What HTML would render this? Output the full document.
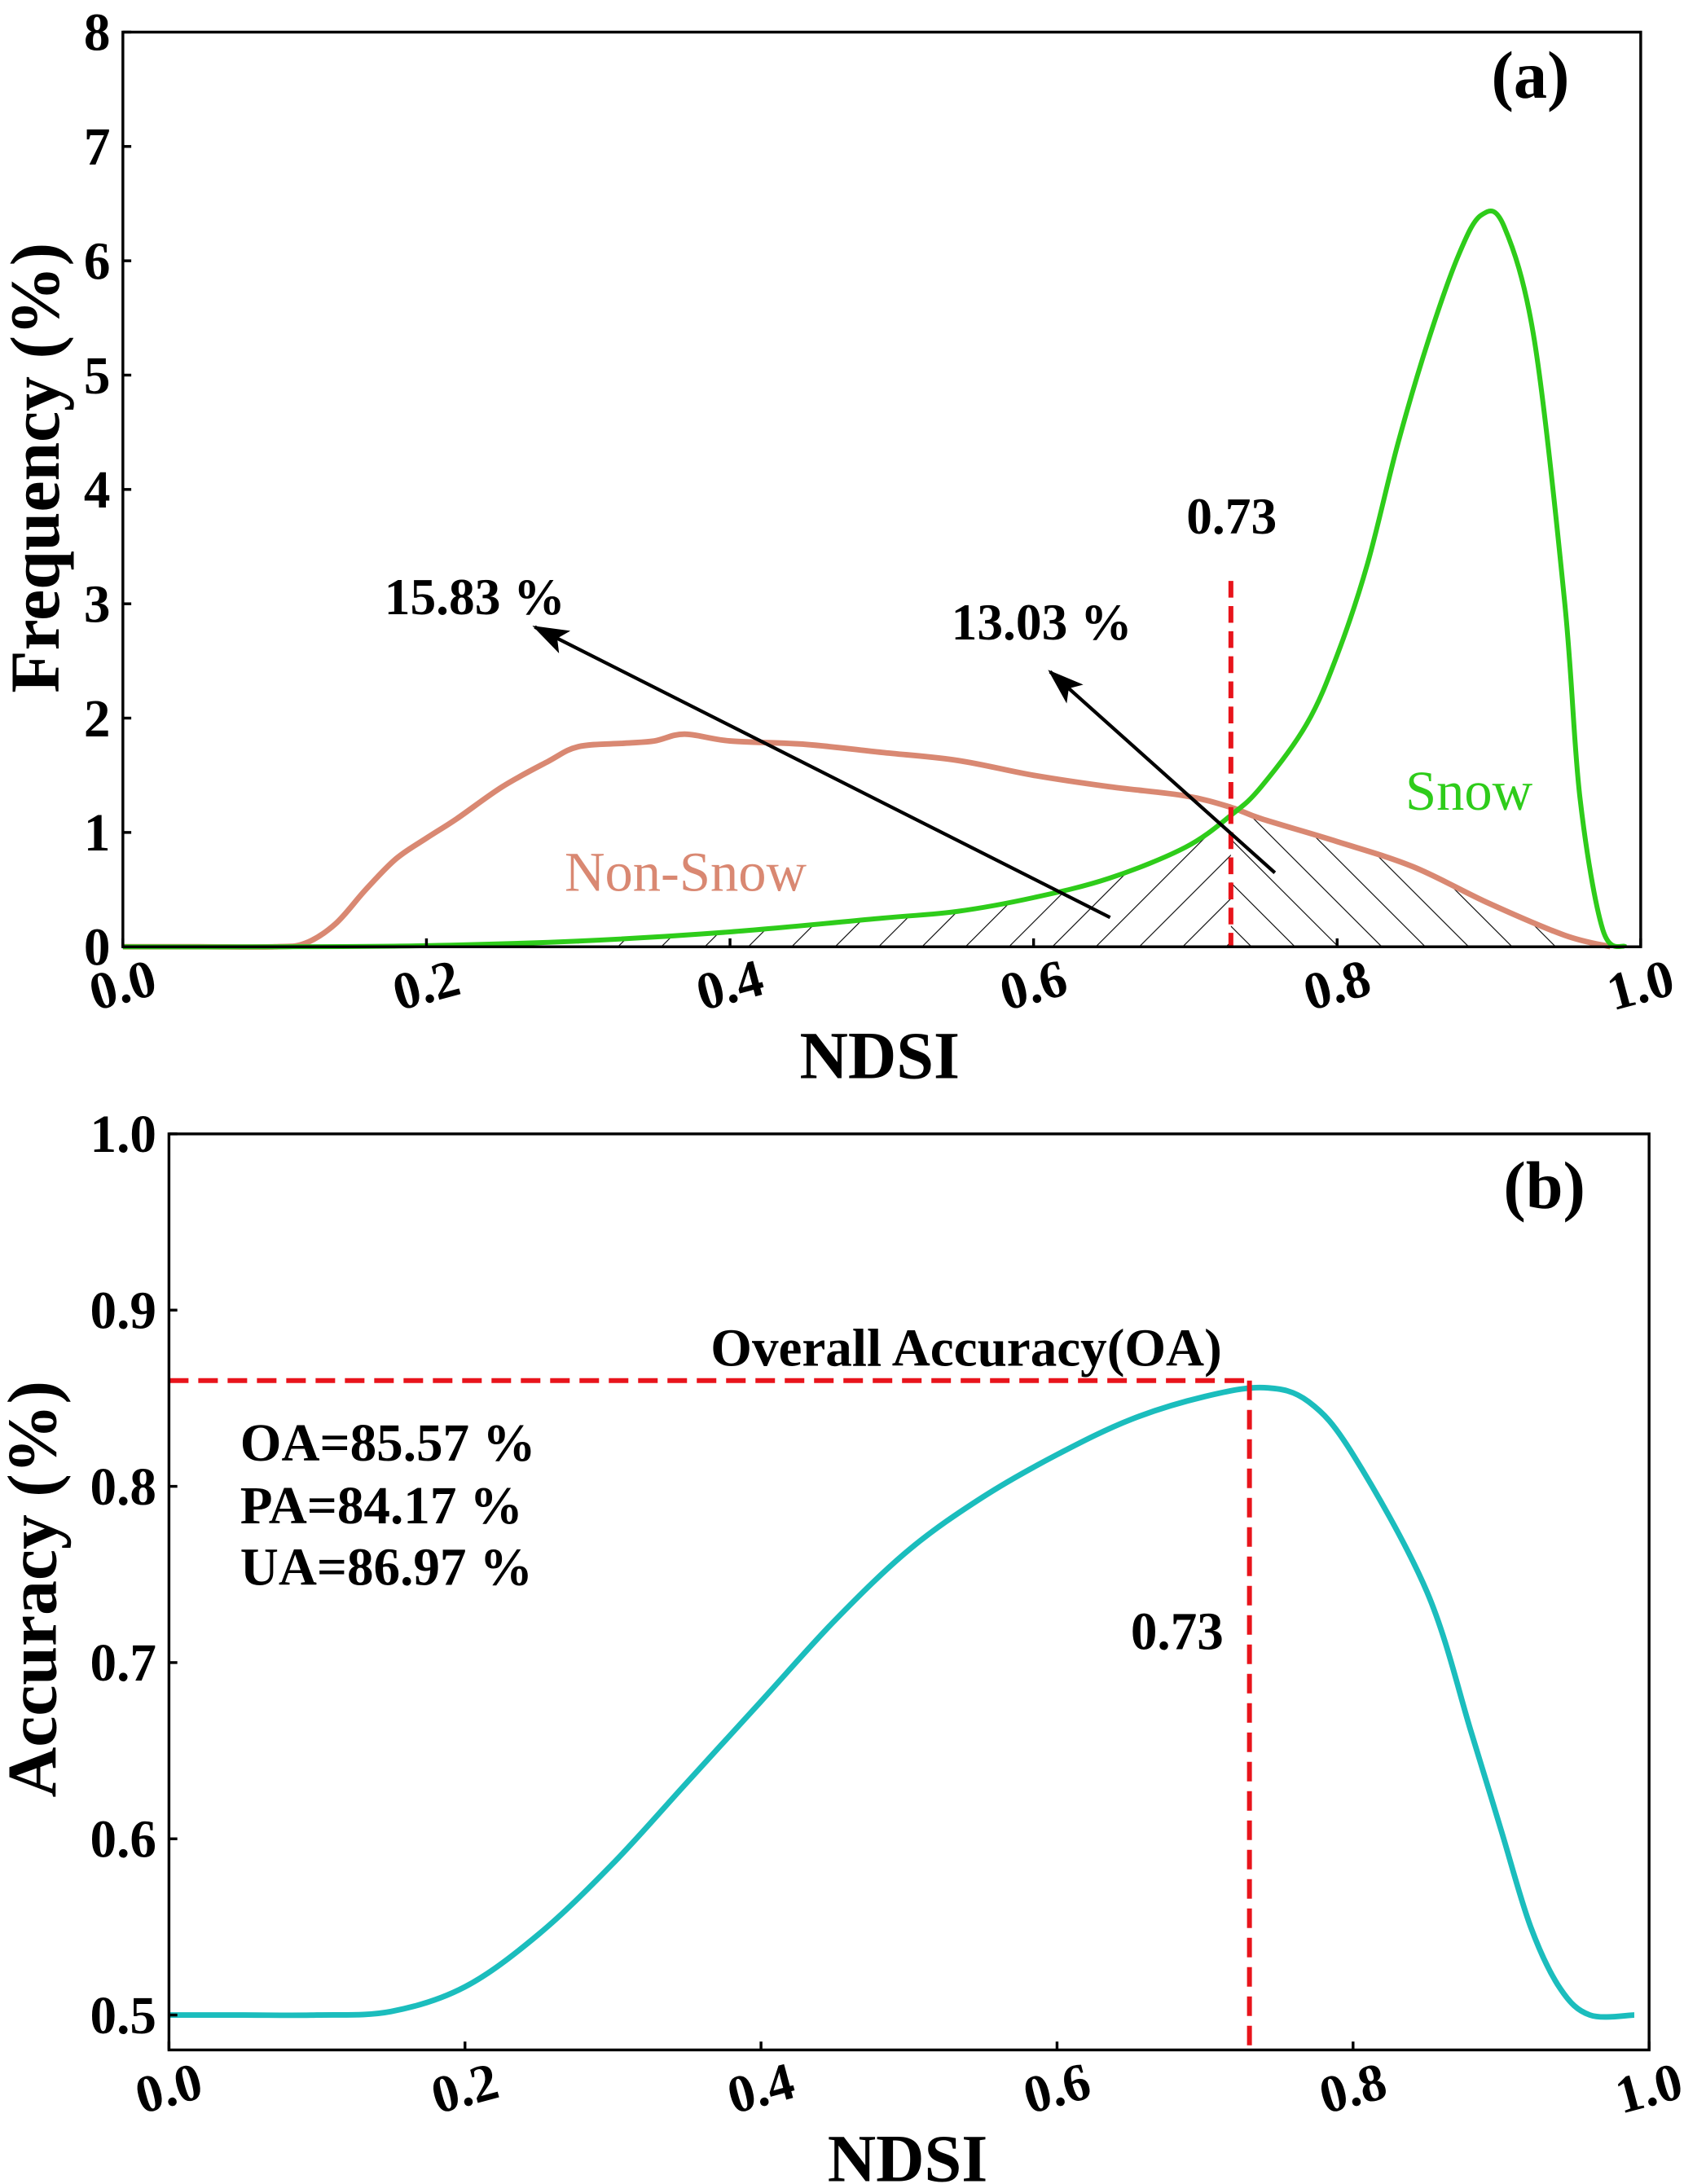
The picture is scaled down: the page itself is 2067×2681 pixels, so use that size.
<!DOCTYPE html>
<html><head><meta charset="utf-8"><style>html,body{margin:0;padding:0;background:#fff}svg{display:block}text{font-family:"Liberation Serif",serif}</style></head>
<body>
<svg id="c" width="2067" height="2681" viewBox="0 0 1206 1564" preserveAspectRatio="none" xmlns="http://www.w3.org/2000/svg">
<defs>
<pattern id="hf" patternUnits="userSpaceOnUse" width="22" height="22" patternTransform="rotate(45)"><line x1="0" y1="0" x2="0" y2="22" stroke="#000" stroke-width="1.3"/></pattern>
<pattern id="hb" patternUnits="userSpaceOnUse" width="22" height="22" patternTransform="rotate(-45)"><line x1="0" y1="0" x2="0" y2="22" stroke="#000" stroke-width="1.3"/></pattern>
<marker id="ah" markerWidth="26" markerHeight="18" refX="24" refY="9" orient="auto" markerUnits="userSpaceOnUse"><path d="M0,0 L26,9 L0,18 L6,9 Z" fill="#000"/></marker>
</defs>
<g id="ga"></g>
<g id="gb"></g>
</svg>
<script>
const freqX=[0,0.05,0.1,0.12,0.14,0.16,0.18,0.2,0.22,0.25,0.28,0.3,0.33,0.35,0.37,0.4,0.45,0.5,0.55,0.6,0.65,0.7,0.73,0.75,0.8,0.85,0.9,0.95,0.98];
const nonSnow=[0,0,0,0.03,0.2,0.5,0.77,0.95,1.12,1.4,1.62,1.75,1.78,1.8,1.86,1.8,1.77,1.7,1.63,1.5,1.4,1.32,1.22,1.12,0.92,0.7,0.38,0.1,0];
const snowX=[0,0.1,0.2,0.3,0.4,0.5,0.55,0.6,0.65,0.7,0.73,0.75,0.78,0.8,0.82,0.84,0.86,0.88,0.895,0.91,0.93,0.95,0.96,0.975,0.99];
const snow=[0,0,0.01,0.05,0.13,0.25,0.31,0.43,0.6,0.87,1.15,1.4,1.95,2.55,3.35,4.4,5.3,6.05,6.4,6.3,5.3,3.0,1.3,0.15,0];
const accX=[0,0.05,0.1,0.15,0.2,0.25,0.3,0.35,0.4,0.45,0.5,0.55,0.6,0.65,0.7,0.74,0.77,0.8,0.85,0.88,0.9,0.92,0.94,0.96,0.99];
const acc=[0.5,0.5,0.5,0.502,0.516,0.546,0.586,0.632,0.678,0.724,0.764,0.794,0.818,0.838,0.851,0.856,0.848,0.818,0.74,0.66,0.605,0.55,0.515,0.5,0.5];
const yTicksA=[0,1,2,3,4,5,6,7,8];
const xTicks=[0,0.2,0.4,0.6,0.8,1.0];
const yTicksB=[0.5,0.6,0.7,0.8,0.9,1.0];
const threshold=0.73, oaLevel=0.86;

const NS="http://www.w3.org/2000/svg";
function mk(p,t,a,txt){const e=document.createElementNS(NS,t);for(const k in a)e.setAttribute(k,a[k]);if(txt!==undefined)e.textContent=txt;p.appendChild(e);return e;}
function smooth(pts){let d="M"+pts[0][0]+","+pts[0][1];for(let i=0;i<pts.length-1;i++){const p0=pts[Math.max(0,i-1)],p1=pts[i],p2=pts[i+1],p3=pts[Math.min(pts.length-1,i+2)];const c1=[p1[0]+(p2[0]-p0[0])/6,p1[1]+(p2[1]-p0[1])/6],c2=[p2[0]-(p3[0]-p1[0])/6,p2[1]-(p3[1]-p1[1])/6];d+=`C${c1[0]},${c1[1]} ${c2[0]},${c2[1]} ${p2[0]},${p2[1]}`;}return d;}
function interp(xs,ys,x){for(let i=0;i<xs.length-1;i++)if(x>=xs[i]&&x<=xs[i+1])return ys[i]+(ys[i+1]-ys[i])*(x-xs[i])/(xs[i+1]-xs[i]);return 0;}

// Panel A
const ga=document.getElementById('ga');
const A={l:88,r:1175,t:23,b:678};
const xa=v=>A.l+v*(A.r-A.l), ya=v=>A.b-v*(A.b-A.t)/8;
let dl=`M${xa(0.3)},${ya(0)}`;for(let x=0.3;x<=threshold+1e-9;x+=0.005)dl+=` L${xa(x)},${ya(interp(snowX,snow,x))}`;dl+=` L${xa(threshold)},${ya(0)}Z`;
let h1=mk(ga,'path',{d:dl,fill:'url(#hf)'});


let dr=`M${xa(threshold)},${ya(0)}`;for(let x=threshold;x<=0.98;x+=0.005)dr+=` L${xa(x)},${ya(Math.min(interp(freqX,nonSnow,x),interp(snowX,snow,x)))}`;dr+=` L${xa(0.98)},${ya(0)}Z`;
let h2=mk(ga,'path',{d:dr,fill:'url(#hb)'});


let ns=mk(ga,'path',{d:smooth(freqX.map((x,i)=>[xa(x),ya(nonSnow[i])])),fill:'none',stroke:'#d98872','stroke-width':4});


let sn=mk(ga,'path',{d:smooth(snowX.map((x,i)=>[xa(x),ya(snow[i])])),fill:'none',stroke:'#2ecc1a','stroke-width':3.5});


let rv=mk(ga,'line',{x1:xa(threshold),x2:xa(threshold),y1:ya(3.2),y2:ya(0),stroke:'#e8141b','stroke-width':3.5,'stroke-dasharray':'12,6'});


let a1=mk(ga,'line',{x1:795,y1:657,x2:383,y2:449,stroke:'#000','stroke-width':2.5,'marker-end':'url(#ah)'});


let a2=mk(ga,'line',{x1:913,y1:625,x2:752,y2:481,stroke:'#000','stroke-width':2.5,'marker-end':'url(#ah)'});


let fr=mk(ga,'rect',{x:A.l,y:A.t,width:A.r-A.l,height:A.b-A.t,fill:'none',stroke:'#000','stroke-width':2});


yTicksA.forEach(v=>{mk(ga,'line',{x1:A.l,x2:A.l+6,y1:ya(v),y2:ya(v),stroke:'#000','stroke-width':2});
 let t=mk(ga,'text',{x:A.l-9,y:ya(v)+13,'text-anchor':'end','font-size':38,'font-weight':'bold'},String(v));
 
 });
xTicks.forEach(v=>{mk(ga,'line',{x1:xa(v),x2:xa(v),y1:A.b,y2:A.b-6,stroke:'#000','stroke-width':2});
 let t=mk(ga,'text',{x:xa(v),y:A.b+40,'text-anchor':'middle','font-size':38,'font-weight':'bold',transform:`rotate(-15 ${xa(v)} ${A.b+28})`},v.toFixed(1));
 
 });
function txt(p,name,x,y,s,opt){let t=mk(p,'text',Object.assign({x:x,y:y,'text-anchor':'middle','font-size':s,'font-weight':'bold'},opt||{}),name[1]);return t;}
txt(ga,['x-axis-title-a','NDSI'],630,772,48);
txt(ga,['y-axis-title-a','Frequency (%)'],42,335,50,{transform:'rotate(-90 42 335)'});
txt(ga,['panel-label-a','(a)'],1096,70,48);
txt(ga,['threshold-label-a','0.73'],882,382,37);
txt(ga,['pct-label-15-83','15.83 %'],340,440,37);
txt(ga,['pct-label-13-03','13.03 %'],746,458,37);
txt(ga,['non-snow-label','Non-Snow'],491,638,40,{'font-weight':'normal',fill:'#d98872'});
txt(ga,['snow-label','Snow'],1052,580,40,{'font-weight':'normal',fill:'#2ecc1a'});

// Panel B
const gb=document.getElementById('gb');
const B={l:121,r:1181,t:812,b:1468};
const xb=v=>B.l+v*(B.r-B.l), yb=v=>1443-(v-0.5)*(1443-812)/0.5;
let cv=mk(gb,'path',{d:smooth(accX.map((x,i)=>[xb(x),yb(acc[i])])),fill:'none',stroke:'#1bbdbd','stroke-width':4});


let hl=mk(gb,'line',{x1:xb(0),x2:xb(threshold),y1:yb(oaLevel),y2:yb(oaLevel),stroke:'#e8141b','stroke-width':3.5,'stroke-dasharray':'14,7'});


let vl=mk(gb,'line',{x1:xb(threshold),x2:xb(threshold),y1:yb(oaLevel),y2:B.b,stroke:'#e8141b','stroke-width':3.5,'stroke-dasharray':'14,7'});


let fb=mk(gb,'rect',{x:B.l,y:B.t,width:B.r-B.l,height:B.b-B.t,fill:'none',stroke:'#000','stroke-width':2});


yTicksB.forEach(v=>{mk(gb,'line',{x1:B.l,x2:B.l+6,y1:yb(v),y2:yb(v),stroke:'#000','stroke-width':2});
 let t=mk(gb,'text',{x:B.l-9,y:yb(v)+13,'text-anchor':'end','font-size':38,'font-weight':'bold'},v.toFixed(1));
 
 });
xTicks.forEach(v=>{mk(gb,'line',{x1:xb(v),x2:xb(v),y1:B.b,y2:B.b-6,stroke:'#000','stroke-width':2});
 let t=mk(gb,'text',{x:xb(v),y:B.b+40,'text-anchor':'middle','font-size':38,'font-weight':'bold',transform:`rotate(-15 ${xb(v)} ${B.b+28})`},v.toFixed(1));
 
 });
txt(gb,['x-axis-title-b','NDSI'],650,1562,48);
txt(gb,['y-axis-title-b','Accuracy (%)'],40,1138,50,{transform:'rotate(-90 40 1138)'});
txt(gb,['panel-label-b','(b)'],1106,865,48);
txt(gb,['oa-title','Overall Accuracy(OA)'],692,978,38);
txt(gb,['oa-value','OA=85.57 %'],172,1046,38,{'text-anchor':'start'});
txt(gb,['pa-value','PA=84.17 %'],172,1091,38,{'text-anchor':'start'});
txt(gb,['ua-value','UA=86.97 %'],172,1135,38,{'text-anchor':'start'});
txt(gb,['threshold-label-b','0.73'],843,1181,38);
</script>
</body></html>
